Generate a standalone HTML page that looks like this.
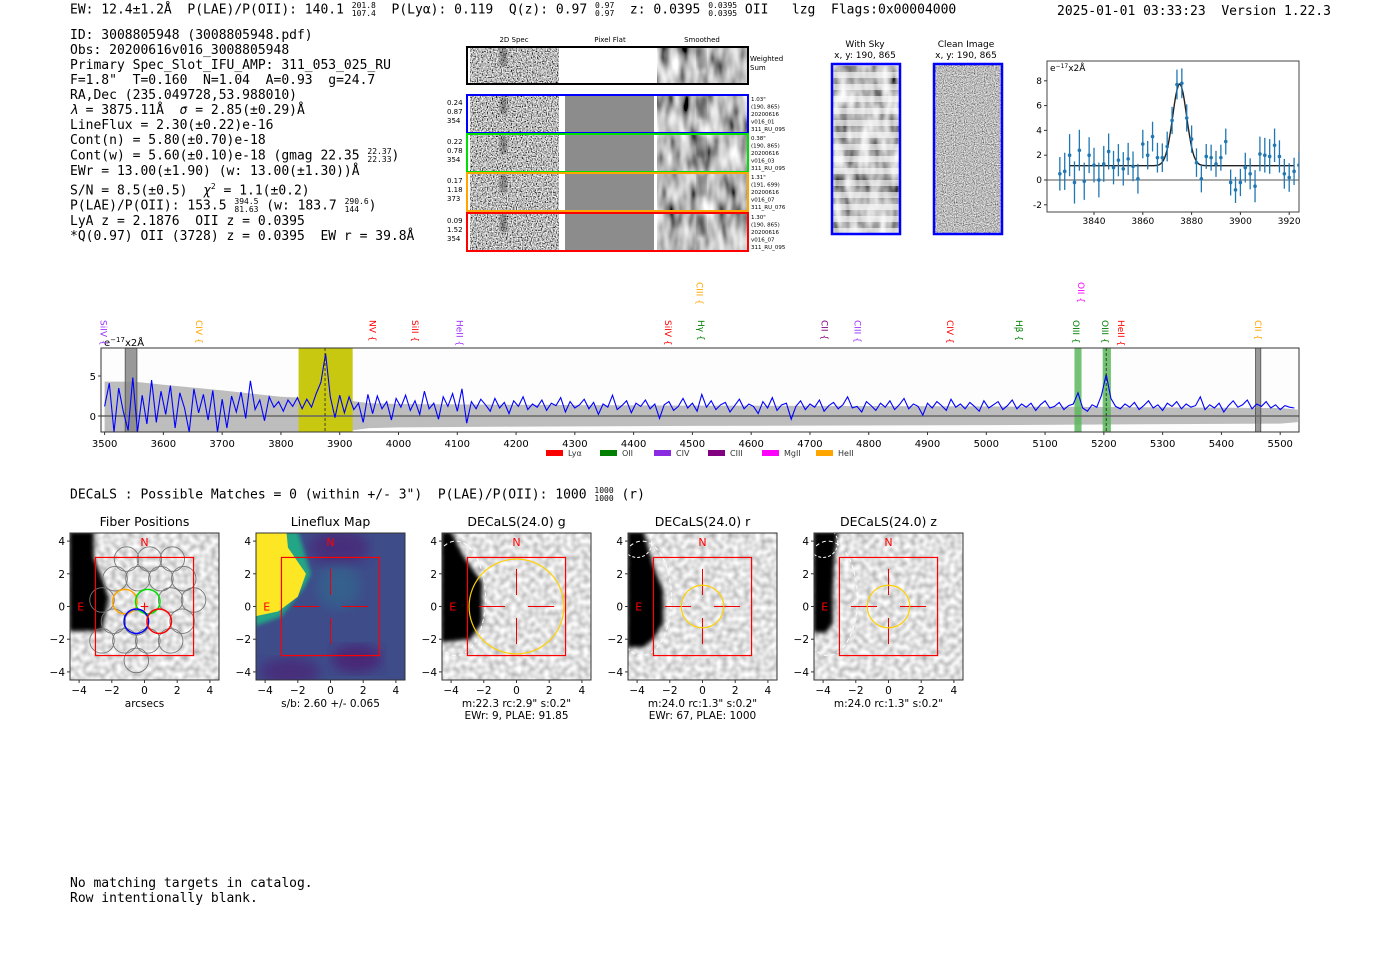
<!DOCTYPE html>
<html><head><meta charset="utf-8">
<style>
body{margin:0;background:#fff;width:1400px;height:953px;overflow:hidden;position:relative;font-family:"DejaVu Sans Mono","Liberation Mono",monospace;}
.t{position:absolute;font-size:13px;white-space:pre;color:#000;line-height:15px;}
sup,sub{font-size:8px;}
.fr{display:inline-block;vertical-align:middle;font-size:8px;line-height:8px;text-align:left;}
svg text{font-family:"DejaVu Sans","Liberation Sans",sans-serif;}
</style></head><body>
<div class="t" style="left:70px;top:2px;">EW: 12.4±1.2Å  P(LAE)/P(OII): 140.1 <span class="fr">201.8<br>107.4</span>  P(Lyα): 0.119  Q(z): 0.97 <span class="fr">0.97<br>0.97</span>  z: 0.0395 <span class="fr">0.0395<br>0.0395</span> OII   lzg  Flags:0x00004000</div>
<div class="t" style="left:1057px;top:4px;">2025-01-01 03:33:23  Version 1.22.3</div>
<div class="t" style="left:70px;top:28px;">ID: 3008805948 (3008805948.pdf)
Obs: 20200616v016_3008805948
Primary Spec_Slot_IFU_AMP: 311_053_025_RU
F=1.8"  T=0.160  N=1.04  A=0.93  g=24.7
RA,Dec (235.049728,53.988010)
<i>λ</i> = 3875.11Å  <i>σ</i> = 2.85(±0.29)Å
LineFlux = 2.30(±0.22)e-16
Cont(n) = 5.80(±0.70)e-18
Cont(w) = 5.60(±0.10)e-18 (gmag 22.35 <span class="fr">22.37<br>22.33</span>)
EWr = 13.00(±1.90) (w: 13.00(±1.30))Å
S/N = 8.5(±0.5)  <i>χ</i><sup>2</sup> = 1.1(±0.2)
P(LAE)/P(OII): 153.5 <span class="fr">394.5<br>81.63</span> (w: 183.7 <span class="fr">290.6<br>144</span>)
LyA z = 2.1876  OII z = 0.0395
*Q(0.97) OII (3728) z = 0.0395  EW r = 39.8Å</div>
<div class="t" style="left:70px;top:487px;">DECaLS : Possible Matches = 0 (within +/- 3")  P(LAE)/P(OII): 1000 <span class="fr">1000<br>1000</span> (r)</div>
<div class="t" style="left:70px;top:876px;">No matching targets in catalog.
Row intentionally blank.</div>

<svg id="svg" width="1400" height="953" style="position:absolute;left:0;top:0" xmlns="http://www.w3.org/2000/svg">
<defs>
<filter id="fn" x="0" y="0" width="1" height="1"><feTurbulence type="fractalNoise" baseFrequency="0.8" numOctaves="1" seed="3"/><feColorMatrix type="matrix" values="2.4 0 0 0 -0.7  2.4 0 0 0 -0.7  2.4 0 0 0 -0.7  0 0 0 0 1"/></filter>
<filter id="fs" x="0" y="0" width="1" height="1"><feTurbulence type="fractalNoise" baseFrequency="0.1 0.035" numOctaves="2" seed="7"/><feColorMatrix type="matrix" values="1.6 0 0 0 -0.3  1.6 0 0 0 -0.3  1.6 0 0 0 -0.3  0 0 0 0 1"/></filter>
<filter id="fc" x="0" y="0" width="1" height="1"><feTurbulence type="fractalNoise" baseFrequency="0.9" numOctaves="1" seed="11"/><feColorMatrix type="matrix" values="1.6 0 0 0 -0.3  1.6 0 0 0 -0.3  1.6 0 0 0 -0.3  0 0 0 0 1"/></filter>
<filter id="fp" x="0" y="0" width="1" height="1"><feTurbulence type="fractalNoise" baseFrequency="0.18" numOctaves="1" seed="5"/><feColorMatrix type="matrix" values="0.9 0 0 0 0.3  0.9 0 0 0 0.3  0.9 0 0 0 0.3  0 0 0 0 1"/></filter>
<filter id="fb"><feGaussianBlur stdDeviation="6"/></filter>
<filter id="fb2"><feGaussianBlur stdDeviation="2"/></filter>
<pattern id="stripes" width="10" height="12" patternUnits="userSpaceOnUse"><rect width="10" height="6" fill="#fff" opacity="0.6"/></pattern>
<clipPath id="cpSpec"><rect x="101" y="348" width="1198" height="84"/></clipPath>
<clipPath id="cpSmall"><rect x="1047" y="61" width="252" height="151"/></clipPath>
</defs>
<g id="gSpec2d"></g>
<g id="gSpec"></g>
<g id="gSmall"></g>
<g id="gPanels"></g>
</svg>

<script>
// ---------- main spectrum data ----------
const specStart = 3500;
const specStep = 8;
const specFlux = [1.2,4.1,-2,3.5,0.5,-1.8,4.8,-2,2.6,-1,4.5,-0.8,3.1,
0.2,3.8,-1.5,2.9,1,-2,3.4,0.4,2.7,-0.5,3.2,-2,2.1,
-1.5,2.5,0.5,3,-0.3,4.4,0.8,2,-0.6,2.4,1.1,1.8,0.6,
2,1.2,2.3,0.9,2.1,1.1,2.8,4.2,7.8,2.4,-0.2,2.6,0.4,
2.4,0.8,1.6,-0.8,2.7,0.3,2.5,0.9,1.8,-0.5,2.2,1.1,2.6,
0.7,1.9,0.2,3.1,0.9,1.6,-0.4,2.4,1.2,2.8,0.6,3.4,-0.9,
1.8,0.9,2.1,1.4,0.6,2.2,1.0,1.7,0.3,1.9,
1.2,2.4,0.8,1.5,1.1,2.0,0.7,1.6,1.3,2.3,
0.5,1.8,1.0,1.4,2.1,0.9,1.7,0.2,1.5,1.1,
2.6,0.8,1.3,1.9,0.4,1.6,1.2,2.0,0.9,1.5,
-0.3,1.4,1.8,0.7,1.2,2.2,1.0,1.6,0.6,2.7,
1.1,1.9,0.8,1.4,1.7,0.5,1.3,2.1,0.9,1.5,
1.2,0.3,1.8,1.0,2.3,0.7,1.4,1.6,-0.4,1.2,
1.9,0.8,1.5,1.1,2.0,0.6,1.3,1.7,0.9,1.4,
2.4,1.0,1.2,0.5,1.8,1.3,0.7,1.6,1.1,1.9,
0.8,1.4,2.2,0.9,1.5,1.2,0.1,1.6,1.0,1.8,
1.3,0.7,2.1,1.1,1.5,0.9,1.7,1.2,0.6,1.9,
1.0,1.4,1.8,0.8,1.3,2.0,0.9,1.5,1.1,1.6,
0.7,1.4,1.9,1.0,1.2,1.7,0.8,1.3,1.5,
2.9,1.0,0.6,1.4,1.1,2.6,5.2,2.2,1.2,0.9,
1.5,1.1,1.7,0.8,1.3,1.9,1.0,1.4,0.7,1.6,
1.2,1.8,0.9,1.5,1.1,1.3,2.4,0.8,1.4,1.0,
1.6,0.5,1.3,1.9,1.1,1.4,2.0,0.9,1.5,1.2,
1.8,1.0,1.4,0.8,1.3,1.1,1.0];
const errLam = [3500,3550,3600,3700,3800,3900,3950,4000,4200,4500,5000,5500,5530];
const errVal = [4.3,4.3,3.9,3.2,2.4,2.1,1.6,1.5,1.4,1.3,1.2,1.0,0.8];
const xTicks = [3500,3600,3700,3800,3900,4000,4100,4200,4300,4400,4500,4600,4700,4800,4900,5000,5100,5200,5300,5400,5500];
const yTicks = [0,5];
const lineNames = ["SiIV","CIV","NV","SiII","HeII","SiIV","Hγ","CIII","CII","CIII","CIV","Hβ","OII","OIII","OIII","HeII","CII"];
const lineLam = [3497,3660,3955,4027,4103,4458,4514,4511,4724,4780,4937,5055,5160,5152,5201,5228,5461];
const lineColors = ["#9b30ff","#ffa500","#ff0000","#ff0000","#9b30ff","#ff0000","#008000","#ffa500","#800080","#9b30ff","#ff0000","#008000","#ff00ff","#008000","#008000","#ff0000","#ffa500"];
const lineHigh = [0,0,0,0,0,0,0,1,0,0,0,0,1,0,0,0,0];
const legendNames = ["Lyα","OII","CIV","CIII","MgII","HeII"];
const legendColors = ["#ff0000","#008000","#8a2be2","#800080","#ff00ff","#ffa500"];

// ---------- zoomed line-fit data ----------
const fitLam = [3826,3828,3830,3832,3834,3836,3838,3840,3842,3844,3846,3848,3850,3852,3854,3856,3858,3860,3862,3864,3866,3868,3870,3872,3874,3876,3878,3880,3882,3884,3886,3888,3890,3892,3894,3896,3898,3900,3902,3904,3906,3908,3910,3912,3914,3916,3918,3920,3922,3924];
const fitFlux = [0.5,0.7,2.0,-0.2,2.4,-0.1,2.0,1.2,0.0,1.3,2.3,1.0,1.6,0.9,1.7,1.1,0.1,2.9,2.0,3.5,1.8,1.8,2.7,4.8,7.7,7.8,5.0,3.3,1.4,0.1,1.9,1.8,1.3,1.8,3.1,-0.2,-0.8,-0.2,1.0,0.5,-0.5,2.1,2.0,1.9,2.8,1.9,0.5,0.2,0.7,1.2];
const fitErr = [1.35,1.5,1.7,1.7,1.65,1.5,1.45,1.4,1.4,1.45,1.45,1.35,1.3,1.35,1.3,1.2,1.2,1.15,1.15,1.2,1.2,1.15,1.2,1.1,1.2,1.2,1.1,1.1,1.15,1.1,1.0,1.05,1.05,1.05,1.05,1.05,1.05,1.1,1.2,1.25,1.3,1.4,1.4,1.4,1.35,1.3,1.2,1.15,1.1,1.1];
const fitModel = [1.15, 6.6, 3875.11, 2.85]; // continuum, amplitude, center, sigma
const fitXTicks = [3840,3860,3880,3900,3920];
const fitYTicks = [-2,0,2,4,6,8];

const NS="http://www.w3.org/2000/svg";
function el(tag, attrs, parent, text){const e=document.createElementNS(NS,tag);for(const k in attrs)e.setAttribute(k,attrs[k]);if(text!==undefined)e.textContent=text;parent.appendChild(e);return e;}

// ===== main spectrum =====
const gS=document.getElementById('gSpec');
const sx=l=>104.6+(l-3500)*0.5878;
const sy=v=>416-8*v;
let r=el('rect',{x:101,y:348,width:1198,height:84,fill:'#fdfdfd',stroke:'none'},gS);

const gc=el('g',{'clip-path':'url(#cpSpec)'},gS);
let pts=errLam.map((l,i)=>sx(l)+','+sy(errVal[i]));
pts=pts.concat(errLam.slice().reverse().map((l,i)=>sx(l)+','+sy(-errVal[errVal.length-1-i]*0.95)));
let band=el('polygon',{points:pts.join(' '),fill:'#bdbdbd'},gc);

const regions=[[3535,3555,'#888','gray'],[3830,3922,'#c8c810','yellow'],[5150,5162,'#5cb85c','green'],[5198,5212,'#5cb85c','green'],[5458,5467,'#888','gray']];
regions.forEach((g,i)=>{const rr=el('rect',{x:sx(g[0]),y:348,width:sx(g[1])-sx(g[0]),height:84,fill:g[2],opacity:g[3]=='yellow'?1:0.85,stroke:g[3]=='gray'?'#333':'none','stroke-width':0.8},gc);
});
el('line',{x1:101,x2:1299,y1:sy(0),y2:sy(0),stroke:'#666','stroke-width':1.5},gc);
let d=specFlux.map((v,i)=>(i?'L':'M')+sx(specStart+i*specStep).toFixed(1)+','+sy(v).toFixed(1)).join('');
let fl=el('path',{d:d,fill:'none',stroke:'#0000ff','stroke-width':1.1},gc);

[3875,5204].forEach(l=>{const dl=el('line',{x1:sx(l),x2:sx(l),y1:348,y2:432,stroke:'#222','stroke-dasharray':'3,2','stroke-width':0.8},gc);});
let fr=el('rect',{x:101,y:348,width:1198,height:84,fill:'none',stroke:'#333','stroke-width':1},gS);

xTicks.forEach(t=>{el('line',{x1:sx(t),x2:sx(t),y1:432,y2:435,stroke:'#333'},gS);const tx=el('text',{x:sx(t),y:447,'font-size':10,'text-anchor':'middle'},gS,t);});
yTicks.forEach(t=>{el('line',{x1:98,x2:101,y1:sy(t),y2:sy(t),stroke:'#333'},gS);const tx=el('text',{x:96,y:sy(t)+4,'font-size':10,'text-anchor':'end'},gS,t);});
let un=el('text',{x:104,y:346,'font-size':10},gS);un.innerHTML='e<tspan dy="-4" font-size="7">−17</tspan><tspan dy="4">x2Å</tspan>';

lineNames.forEach((n,i)=>{const x=sx(lineLam[i]);const yb=lineHigh[i]?282:320;
const t=el('text',{x:x,y:yb,'font-size':9,fill:lineColors[i],transform:`rotate(90 ${x} ${yb})`,'dominant-baseline':'middle'},gS,n+'  {');
});
legendNames.forEach((n,i)=>{const x=546+i*54;const rr=el('rect',{x:x,y:450,width:17,height:6,fill:legendColors[i]},gS);
const t=el('text',{x:x+22,y:456,'font-size':8,fill:'#333'},gS,n);});

// ===== zoomed fit plot =====
const gZ=document.getElementById('gSmall');
const zx=l=>1094+(l-3840)*2.44;
const zy=v=>180-12.4*v;
let zf=el('rect',{x:1047,y:61,width:252,height:151,fill:'#fff',stroke:'#444'},gZ);

const gz=el('g',{'clip-path':'url(#cpSmall)'},gZ);
el('line',{x1:1047,x2:1299,y1:zy(0),y2:zy(0),stroke:'#555','stroke-width':1},gz);
let md='';for(let l=3830;l<=3922;l+=0.5){const m=fitModel[0]+fitModel[1]*Math.exp(-Math.pow(l-fitModel[2],2)/(2*fitModel[3]*fitModel[3]));md+=(md?'L':'M')+zx(l).toFixed(1)+','+zy(m).toFixed(1);}
let mp=el('path',{d:md,fill:'none',stroke:'#222','stroke-width':1.4},gz);
fitLam.forEach((l,i)=>{const x=zx(l),y=zy(fitFlux[i]);
const eb=el('line',{x1:x,x2:x,y1:zy(fitFlux[i]+fitErr[i]),y2:zy(fitFlux[i]-fitErr[i]),stroke:'#1f77b4','stroke-width':1.3},gz);
const c=el('circle',{cx:x,cy:y,r:1.8,fill:'#1f77b4'},gz);});
fitXTicks.forEach(t=>{el('line',{x1:zx(t),x2:zx(t),y1:212,y2:215,stroke:'#333'},gZ);const tx=el('text',{x:zx(t),y:224,'font-size':9,'text-anchor':'middle'},gZ,t);});
fitYTicks.forEach(t=>{el('line',{x1:1044,x2:1047,y1:zy(t),y2:zy(t),stroke:'#333'},gZ);const tx=el('text',{x:1042,y:zy(t)+3,'font-size':9,'text-anchor':'end'},gZ,t);});
let zu=el('text',{x:1050,y:71,'font-size':9},gZ);zu.innerHTML='e<tspan dy="-3" font-size="6">−17</tspan><tspan dy="3">x2Å</tspan>';


// ===== 2D spectra cutouts =====
const g2=document.getElementById('gSpec2d');
[['2D Spec',514],['Pixel Flat',610],['Smoothed',702]].forEach(h=>{const t=el('text',{x:h[1],y:42,'font-size':7,'text-anchor':'middle'},g2,h[0]);});
function cutRow(y,h,col,flat,name){
 const g=el('g',{},g2);
 el('rect',{x:470,y:y,width:89,height:h,fill:'#888',filter:'url(#fn)'},g);
 el('rect',{x:500,y:y,width:7,height:h*0.5,fill:'#000',opacity:0.35,filter:'url(#fb2)'},g);
 el('rect',{x:565,y:y,width:89,height:h,fill:flat?'#fff':'#8c8c8c'},g);
 el('rect',{x:657,y:y,width:90,height:h,fill:'#888',filter:'url(#fs)'},g);
 el('rect',{x:697,y:y,width:9,height:h*0.6,fill:'#000',opacity:0.35,filter:'url(#fb2)'},g);
 el('rect',{x:467,y:y-1,width:281,height:h+2,fill:'none',stroke:col,'stroke-width':2},g);
}
cutRow(48,35,'#000',true,'weighted-sum-cutout');
let ws=el('text',{x:750,y:61,'font-size':7},g2);ws.innerHTML='Weighted<tspan x="750" dy="9">Sum</tspan>';
const rowsY=[96,135,174,214], rowsC=['#0000ff','#00e000','#ffa500','#ff0000'];
const leftNums=[['0.24','0.87','354'],['0.22','0.78','354'],['0.17','1.18','373'],['0.09','1.52','354']];
const rightTxt=[['1.03"','(190, 865)','20200616','v016_01','311_RU_095'],['0.38"','(190, 865)','20200616','v016_03','311_RU_095'],['1.31"','(191, 699)','20200616','v016_07','311_RU_076'],['1.30"','(190, 865)','20200616','v016_07','311_RU_095']];
rowsY.forEach((y,i)=>{cutRow(y,36,rowsC[i],false,'fiber-cutout-row');
 leftNums[i].forEach((s,j)=>{const t=el('text',{x:447,y:y+9+j*9,'font-size':7},g2,s);});
 rightTxt[i].forEach((s,j)=>{const t=el('text',{x:751,y:y+5+j*7.5,'font-size':5.5},g2,s);});
});
[['With Sky',865,832],['Clean Image',966,934]].forEach((c,i)=>{
 const t=el('text',{x:c[1],y:47,'font-size':9,'text-anchor':'middle'},g2);t.innerHTML=c[0]+'<tspan x="'+c[1]+'" dy="11">x, y: 190, 865</tspan>';
 const g=el('g',{},g2);
 el('rect',{x:c[2],y:64,width:68,height:170,fill:'#888',filter:i?'url(#fc)':'url(#fs)'},g);
 if(!i) el('rect',{x:c[2],y:64,width:68,height:170,fill:'url(#stripes)'},g);
 el('rect',{x:c[2],y:64,width:68,height:170,fill:'none',stroke:'#0000ff','stroke-width':2.5},g);
});

// ===== bottom image panels =====
const gP=document.getElementById('gPanels');
const panelX=[70,256,442,628,814];
const titles=['Fiber Positions','Lineflux Map','DECaLS(24.0) g','DECaLS(24.0) r','DECaLS(24.0) z'];
const subs=[['arcsecs'],['s/b: 2.60 +/- 0.065'],['m:22.3 rc:2.9"  s:0.2"','EWr: 9, PLAE: 91.85'],['m:24.0 rc:1.3"  s:0.2"','EWr: 67, PLAE: 1000'],['m:24.0 rc:1.3"  s:0.2"']];
const apert=[0,0,2.9,1.3,1.3];
const W=149,H=147,Y0=533,U=16.35;
panelX.forEach((X,p)=>{
 const g=el('g',{},gP);
 const cx=X+W/2, cy=Y0+H/2;
 const ax=v=>cx+v*U, ay=v=>cy-v*U;
 const cid='cp'+p;const cp=el('clipPath',{id:cid},g);el('rect',{x:X,y:Y0,width:W,height:H},cp);
 const gi=el('g',{'clip-path':`url(#${cid})`},g);
 if(p==1){
  el('rect',{x:X,y:Y0,width:W,height:H,fill:'#3e4c8a'},gi);
  el('ellipse',{cx:ax(0.5),cy:ay(3.6),rx:30,ry:18,fill:'#472d7b',filter:'url(#fb)'},gi);
  el('ellipse',{cx:ax(-2.5),cy:ay(-4),rx:30,ry:14,fill:'#472d7b',filter:'url(#fb)'},gi);
  el('ellipse',{cx:ax(1.6),cy:ay(-3.2),rx:25,ry:14,fill:'#482777',filter:'url(#fb)'},gi);
  el('ellipse',{cx:ax(0.5),cy:ay(1.2),rx:22,ry:22,fill:'#31688e',filter:'url(#fb)',opacity:0.7},gi);
  el('polygon',{points:[[-4.6,4.6],[-2,4.6],[-1.2,2],[-1.6,1.2],[-3,-0.6],[-4.6,-1.2]].map(q=>ax(q[0])+','+ay(q[1])).join(' '),fill:'#21a685',filter:'url(#fb2)'},gi);
  el('polygon',{points:[[-4.6,4.6],[-2.7,4.6],[-2.6,3.6],[-1.5,2],[-2,0.6],[-3.2,-0.3],[-4.6,-0.6]].map(q=>ax(q[0])+','+ay(q[1])).join(' '),fill:'#fde725'},gi);
 } else {
  el('rect',{x:X,y:Y0,width:W,height:H,fill:'#bbb',filter:'url(#fp)'},gi);
  const blk = p==0?[[-4.6,4.6],[-3.1,4.6],[-3.1,3],[-2.5,1.5],[-2.2,0.5],[-2.6,-1.5],[-3.5,-1.5],[-4.6,-1.5]]:
   p==2?[[-4.6,4.6],[-4.0,4.6],[-3.2,3],[-2.1,1.5],[-2.1,-1],[-2.8,-2],[-4.6,-2.2]]:
   p==3?[[-4.6,4.6],[-3.6,4.6],[-3.0,2.5],[-2.4,1],[-2.4,-1],[-3,-2],[-3.6,-2.5],[-4.6,-2.5]]:
   [[-4.6,4.6],[-3.1,4.6],[-3.3,3],[-3.4,1],[-3.4,-1],[-3.8,-1.6],[-4.6,-1.6]];
  el('polygon',{points:blk.map(q=>ax(q[0])+','+ay(q[1])).join(' '),fill:'#000',filter:'url(#fb2)'},gi);
  if(p>=2){
   el('ellipse',{cx:ax(-3.7),cy:ay(0.5),rx:1.8*U,ry:3.5*U,fill:'none',stroke:'#fff','stroke-dasharray':'4,3','stroke-width':1},gi);
   if(p>=3) el('circle',{cx:ax(-4),cy:ay(3.9),r:0.9*U,fill:'none',stroke:'#fff','stroke-dasharray':'3,2','stroke-width':1},gi);
  }
 }
 if(p==0){
  const hexes=[[-1.1,2.9],[0.3,2.9],[1.7,2.9],[-1.8,1.7],[-0.4,1.7],[1.0,1.7],[2.4,1.7],[-2.6,0.4],[1.6,0.4],[3.0,0.4],[-1.9,-0.9],[2.3,-0.9],[-2.6,-2.1],[-1.2,-2.1],[0.2,-2.1],[1.6,-2.1],[-0.5,-3.3],[-0.5,-1.0]];
  hexes.forEach(h=>{const c=el('circle',{cx:ax(h[0]),cy:ay(h[1]),r:0.75*U,fill:'none',stroke:'#777','stroke-width':0.9},gi);});
  [[-1.2,0.3,'#ffa500'],[0.2,0.3,'#00e000'],[-0.5,-0.9,'#0000ff'],[0.9,-0.9,'#ff0000']].forEach(h=>{const c=el('circle',{cx:ax(h[0]),cy:ay(h[1]),r:0.75*U,fill:'none',stroke:h[2],'stroke-width':1.5},gi);});
  el('text',{x:ax(0),y:ay(0)+4,'font-size':12,fill:'#f00','text-anchor':'middle'},gi,'+');
 } else {
  [[-2.3,-0.7],[0.7,2.3]].forEach(s=>el('line',{x1:ax(s[0]),x2:ax(s[1]),y1:ay(0),y2:ay(0),stroke:'#e00','stroke-width':1},gi));
  [[-2.3,-0.7],[0.7,2.3]].forEach(s=>el('line',{x1:ax(0),x2:ax(0),y1:ay(s[0]),y2:ay(s[1]),stroke:'#e00','stroke-width':1},gi));
 }
 if(apert[p]){const c=el('circle',{cx:ax(0),cy:ay(0),r:apert[p]*U,fill:'none',stroke:'#ffd000','stroke-width':1.2},gi);}
 const sq=el('rect',{x:ax(-3),y:ay(3),width:6*U,height:6*U,fill:'none',stroke:'#f00','stroke-width':1.2},gi);
 el('text',{x:ax(0),y:ay(4)+5,'font-size':11,fill:'#f00','text-anchor':'middle'},gi,'N');
 el('text',{x:ax(-3.9),y:ay(0)+4,'font-size':11,fill:'#f00','text-anchor':'middle'},gi,'E');
 el('rect',{x:X,y:Y0,width:W,height:H,fill:'none',stroke:'#333','stroke-width':1},g);
 const tt=el('text',{x:cx,y:526,'font-size':12.5,'text-anchor':'middle'},g,titles[p]);
 [-4,-2,0,2,4].forEach(t=>{
  el('line',{x1:ax(t),x2:ax(t),y1:Y0+H,y2:Y0+H+3,stroke:'#333'},g);
  const a=el('text',{x:ax(t),y:Y0+H+14,'font-size':10.5,'text-anchor':'middle'},g,(t<0?'−':'')+Math.abs(t));
  el('line',{x1:X-3,x2:X,y1:ay(t),y2:ay(t),stroke:'#333'},g);
  const b=el('text',{x:X-5,y:ay(t)+4,'font-size':10.5,'text-anchor':'end'},g,(t<0?'−':'')+Math.abs(t));
 });
 subs[p].forEach((s,j)=>{const t=el('text',{x:cx,y:707+j*12,'font-size':10.5,'text-anchor':'middle'},g,s);});
});
</script>
</body></html>
